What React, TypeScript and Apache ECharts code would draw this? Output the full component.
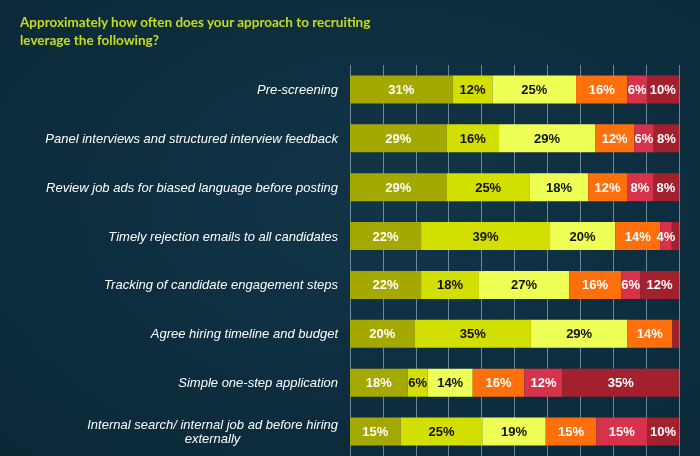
import React, { useEffect, useRef } from "react";
import * as echarts from "echarts";

const categories = [
  "Pre-screening",
  "Panel interviews and structured interview feedback",
  "Review job ads for biased language before posting",
  "Timely rejection emails to all candidates",
  "Tracking of candidate engagement steps",
  "Agree hiring timeline and budget",
  "Simple one-step application",
  "Internal search/ internal job ad before hiring\nexternally",
];

const seg1 = [31.2, 29.4, 29.3, 21.6, 21.6, 19.6, 17.5, 15.4];
const seg2 = [12.1, 15.9, 25.4, 39.2, 17.6, 35.4, 6.1, 24.8];
const seg3 = [25.4, 29.2, 17.7, 19.8, 27.4, 29.3, 13.7, 19.3];
const seg4 = [15.6, 11.9, 11.8, 13.7, 15.8, 13.7, 15.7, 15.4];
const seg5 = [5.9, 5.9, 7.9, 3.5, 5.8, 0, 11.6, 15.4];
const seg6 = [9.8, 7.7, 7.9, 2.2, 11.8, 2.0, 35.4, 9.7];

const segments = [seg1, seg2, seg3, seg4, seg5, seg6];
const segColors = ["#a4a800", "#d3df00", "#eeff55", "#ff6f0c", "#d6324a", "#a3212f"];
const labelColors = ["#ffffff", "#111111", "#111111", "#ffffff", "#ffffff", "#ffffff"];

const title = "Approximately how often does your approach to recruiting\nleverage the following?";

const LABEL_FONT = "'Liberation Sans', Arial, sans-serif";

function measure(text: string): number {
  const c = document.createElement("canvas").getContext("2d");
  if (!c) return 250;
  c.font = "italic 13px 'Liberation Sans', Arial, sans-serif";
  return Math.ceil(c.measureText(text).width);
}

export default function App() {
  const ref = useRef<HTMLDivElement>(null);
  useEffect(() => {
    document.body.style.margin = "0";
    const chart = echarts.init(ref.current!, null, { renderer: "svg" });
    const series = segments.map((seg, i) => ({
      type: "bar",
      stack: "total",
      barWidth: 28,
      data: seg,
      itemStyle: { color: segColors[i] },
      label: {
        show: true,
        position: "inside",
        color: labelColors[i],
        fontWeight: "bold",
        fontSize: 13,
        fontFamily: LABEL_FONT,
        formatter: (p: any) => (p.value >= 3 ? Math.round(p.value) + "%" : ""),
      },
    }));
    const rich: any = {
      a: {
        color: "#ffffff",
        fontStyle: "italic",
        fontSize: 13,
        lineHeight: 14,
        fontFamily: LABEL_FONT,
      },
    };
    const formatter = (v: string, idx: number) => {
      const parts = v.split("\n");
      if (parts.length === 1) return "{a|" + v + "}";
      const key = "c" + idx;
      const w = measure(parts[0]);
      rich[key] = {
        color: "#ffffff",
        fontStyle: "italic",
        fontSize: 13,
        lineHeight: 14,
        width: w,
        align: "center",
        fontFamily: LABEL_FONT,
      };
      return "{a|" + parts[0] + "}\n{" + key + "|" + parts[1] + "}";
    };
    // pre-register rich styles
    categories.forEach((c, i) => formatter(c, i));
    chart.setOption({
      animation: false,
      backgroundColor: {
        type: "radial",
        x: 0.55,
        y: 0.45,
        r: 0.8,
        colorStops: [
          { offset: 0, color: "#113548" },
          { offset: 1, color: "#0a2736" },
        ],
      },
      title: {
        text: title,
        left: 20,
        top: 13,
        padding: 0,
        textStyle: {
          color: "#c6dc1c",
          fontSize: 13.5,
          fontWeight: "bold",
          lineHeight: 18,
          fontFamily: "Lato, 'Liberation Sans', Arial, sans-serif",
        },
      },
      grid: { left: 350, top: 65, width: 329, height: 392, containLabel: false },
      xAxis: {
        type: "value",
        min: 0,
        max: 100,
        interval: 10,
        axisLabel: { show: false },
        axisLine: { show: false },
        axisTick: { show: false },
        splitLine: { show: true, lineStyle: { color: "rgba(190,210,225,0.55)", width: 1 } },
      },
      yAxis: {
        type: "category",
        inverse: true,
        data: categories,
        axisLine: { show: false },
        axisTick: { show: false },
        axisLabel: {
          margin: 12,
          color: "#ffffff",
          fontStyle: "italic",
          fontSize: 13,
          lineHeight: 14,
          fontFamily: LABEL_FONT,
          formatter,
          rich,
        },
      },
      series,
    });
    return () => chart.dispose();
  }, []);
  return (
    <div
      ref={ref}
      style={{ position: "fixed", left: 0, top: 0, width: 700, height: 456 }}
    />
  );
}
